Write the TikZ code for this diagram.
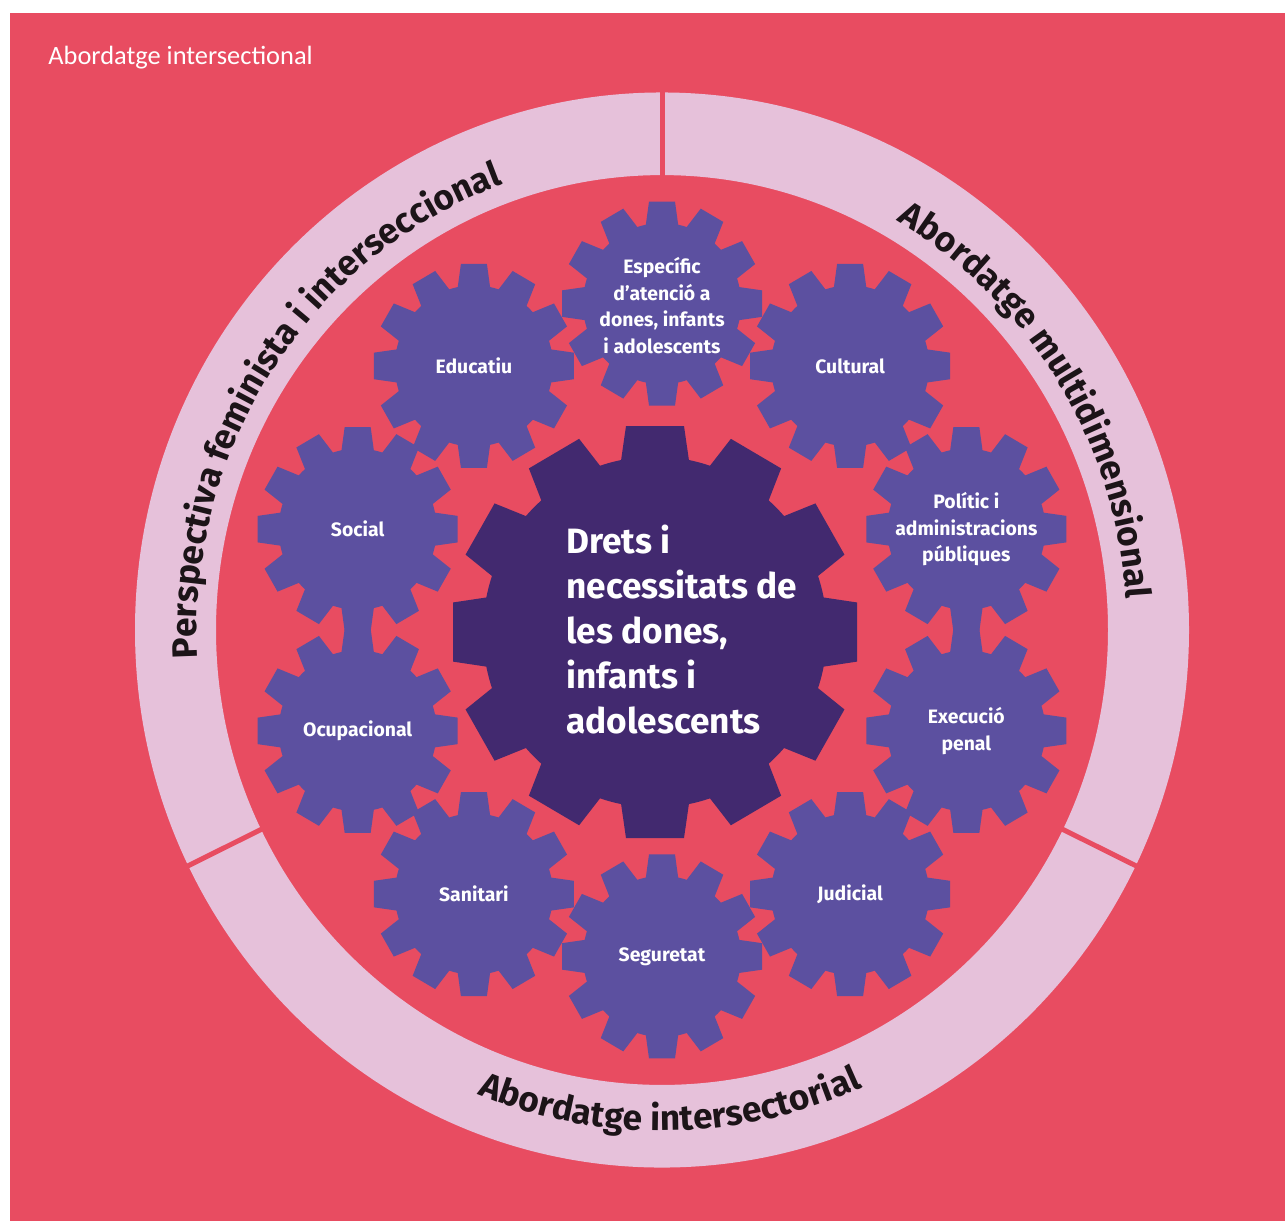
\documentclass[tikz,border=0pt]{standalone}
\usepackage{fontspec}
\setmainfont{Fira Sans}
\newfontfamily\titlefont{Carlito}
\usetikzlibrary{calc,decorations.text}

\definecolor{bgred}{HTML}{E84C61}
\definecolor{ringpink}{HTML}{E6C1DA}
\definecolor{gearpurple}{HTML}{5C50A0}
\definecolor{hubpurple}{HTML}{42296F}
\definecolor{ringtext}{HTML}{1C1418}

\newcommand{\ringfont}{\bfseries\fontsize{17.6}{17.6}\selectfont}

\tikzset{
  gearlabel/.style={align=center, text=white, inner sep=0pt, font=\bfseries\fontsize{9.7}{13.4}\selectfont},
  hublabel/.style={align=left, text=white, inner sep=0pt, font=\bfseries\fontsize{17.6}{22.5}\selectfont},
  ringlabel/.style={decorate, decoration={text along path, text align=center, text color=ringtext, text={|\ringfont|#1}}},
  cutline/.style={bgred, line width=2.5pt}
}

\begin{document}
\begin{tikzpicture}[x=0.5pt, y=0.5pt]
    \useasboundingbox (0,0) rectangle (1285,-1222);
    \fill[bgred] (10,-13) rectangle (1285,-1221);

    \node (title) [anchor=west, text=white, inner sep=0pt, font=\titlefont\fontsize{13.2}{15}\selectfont] at (48,-58) {Abordatge intersectional};

  \begin{scope}[shift={(662,-630)}, yscale=1.02]
    % ring
    \fill[ringpink, even odd rule] (0,0) circle (527) (0,0) circle (446);
    \foreach \a in {90,206,334}
      \draw[cutline] (\a:440) -- (\a:533);

    \path[ringlabel={Perspectiva feminista i interseccional}] (205:465) arc[start angle=205, end angle=88, radius=465];
    \path[ringlabel={Abordatge multidimensional}] (91:465) arc[start angle=91, end angle=-27, radius=465];
    \path[ringlabel={Abordatge intersectorial}] (216:491) arc[start angle=216, end angle=326, radius=491];

    % small gears
    \foreach \ang/\name in {90/especific, 126/educatiu, 162/social, 198/ocupacional, 234/sanitari,
                            270/seguretat, 306/judicial, 342/execucio, 18/politic, 54/cultural} {
      \coordinate (g\name) at (\ang:320);
      \fill[gearpurple] (\ang:320) circle (79);
      \foreach \t in {0,30,...,330}
        \fill[gearpurple, shift={(\ang:320)}, rotate=\t] (75,-16.5) -- (100,-13) -- (100,13) -- (75,16.5) -- cycle;
    }

    % centre gear
    \coordinate (ghub) at (-7,-2);
    \fill[hubpurple] (ghub) circle (172);
    \foreach \t in {0,30,...,330}
      \fill[hubpurple, shift={(-7,-2)}, rotate=\t] (168,-34) -- (202,-29) -- (202,29) -- (168,34) -- cycle;

    \node (especific) [gearlabel] at ($(gespecific)+(0,-2)$) {Específic\\d’atenció a\\dones, infants\\i adolescents};
    \node (educatiu) [gearlabel] at (geducatiu) {Educatiu};
    \node (social) [gearlabel] at (gsocial) {Social};
    \node (ocupacional) [gearlabel] at (gocupacional) {Ocupacional};
    \node (sanitari) [gearlabel] at (gsanitari) {Sanitari};
    \node (seguretat) [gearlabel] at (gseguretat) {Seguretat};
    \node (judicial) [gearlabel] at (gjudicial) {Judicial};
    \node (execucio) [gearlabel] at (gexecucio) {Execució\\penal};
    \node (politic) [gearlabel] at (gpolitic) {Polític i\\administracions\\públiques};
    \node (cultural) [gearlabel] at (gcultural) {Cultural};

    \node (drets) [hublabel, anchor=west] at (-96,0) {Drets i\\necessitats de\\les dones,\\infants i\\adolescents};
  \end{scope}
\end{tikzpicture}
\end{document}
